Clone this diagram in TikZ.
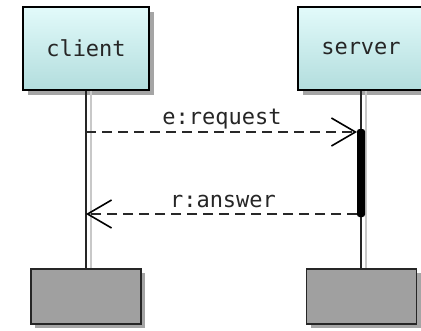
\documentclass[tikz,border=0pt]{standalone}
\usepackage{fontspec}
\newfontfamily\seqmono{DejaVu Sans Mono}
\usetikzlibrary{arrows.meta,shadows}
\definecolor{boxtop}{RGB}{226,250,250}
\definecolor{boxbot}{RGB}{178,221,221}
\definecolor{shadowgrey}{RGB}{165,165,165}
\definecolor{endgrey}{RGB}{160,160,160}
\definecolor{lifeshadow}{RGB}{200,200,200}
\definecolor{msgcol}{RGB}{40,40,40}
\tikzset{
  partbox/.style={draw=black, line width=1.5pt, top color=boxtop, bottom color=boxbot,
    minimum width=126pt, minimum height=83pt, inner sep=0pt,
    font=\seqmono\fontsize{22}{26}\selectfont, text=black!85,
    drop shadow={shadow xshift=5pt, shadow yshift=-5pt, fill=shadowgrey, opacity=1}},
  endbox/.style={draw=black!85, line width=1.5pt, fill=endgrey,
    minimum width=110pt, minimum height=55pt, inner sep=0pt,
    drop shadow={shadow xshift=4pt, shadow yshift=-4pt, fill=shadowgrey, opacity=1}},
  lifeline/.style={draw=black!85, line width=1.5pt},
  lifeshade/.style={draw=lifeshadow, line width=2pt},
  msg/.style={draw=msgcol, line width=1.5pt, dash pattern=on 10pt off 6pt,
    -{Straight Barb[length=24pt, width=28pt, line width=1.6pt, black]}},
  msglabel/.style={font=\seqmono\fontsize{22}{26}\selectfont, text=black!85, anchor=base, inner sep=0pt},
  actbar/.style={fill=black, minimum width=8pt, minimum height=88pt, inner sep=0pt, rounded corners=2.5pt}
}
\begin{document}
\begin{tikzpicture}[x=1pt,y=-1pt]
\clip (0,0) rectangle (421,330);
\fill[white] (0,0) rectangle (421,330);
% end boxes
\node[endbox] (cend) at (86,296.5) {};
\node[endbox] (send) at (361.5,296.5) {};
% top boxes
\node[partbox] (client) at (86,48.5) {client};
\node[partbox] (server) at (361,48.5) {server};
% lifelines
\draw[lifeshade] ([xshift=5pt]client.south) -- ([xshift=5pt]client.south |- cend.north);
\draw[lifeshade] ([xshift=5pt]server.south) -- ([xshift=5pt]server.south |- send.north);
\draw[lifeline] (client.south) -- (client.south |- cend.north);
\draw[lifeline] (server.south) -- (server.south |- send.north);
% activation
\node[actbar] (act) at (361,173) {};
\coordinate (creq) at (86,132);
\coordinate (cans) at (86,214);
\coordinate (sreq) at (357,132);
\coordinate (sans) at (357,214);
\draw[msg] (creq) -- (sreq);
\draw[msg] (sans) -- (cans);
\node[msglabel] (lreq) at (222,124) {e:request};
\node[msglabel] (lans) at (223,207) {r:answer};
\end{tikzpicture}
\end{document}
